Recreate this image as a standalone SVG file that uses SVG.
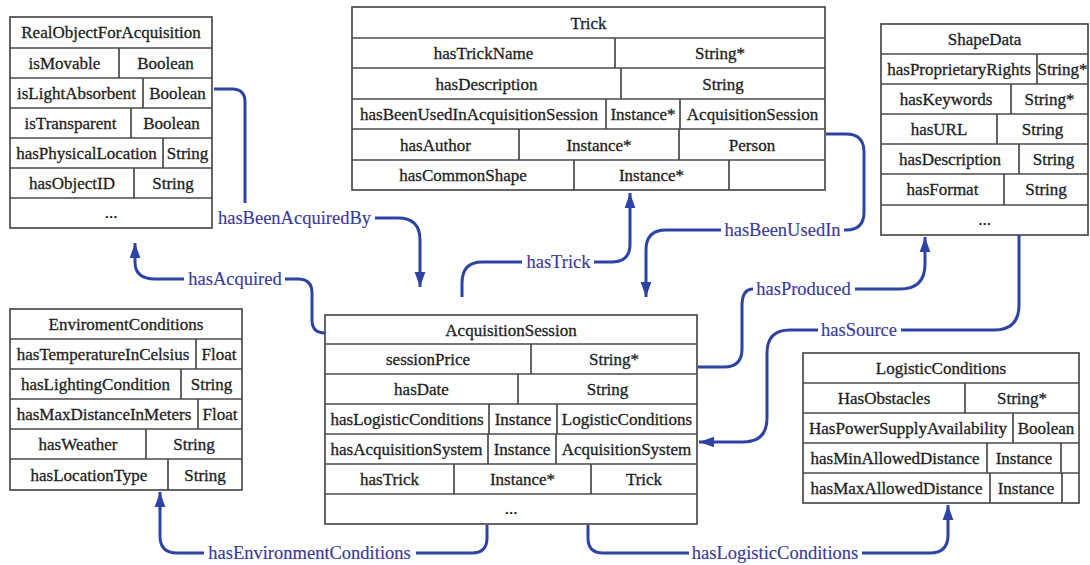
<svg xmlns="http://www.w3.org/2000/svg" width="1090" height="565" viewBox="0 0 1090 565">
<style>
.box{fill:#fff;stroke:#4a4a4a;stroke-width:1.7}
.ln{stroke:#4a4a4a;stroke-width:1.7}
.t{font-family:"Liberation Serif","Times New Roman",serif;font-size:17px;fill:#1e1e1e;stroke:#1e1e1e;stroke-width:0.3;text-anchor:middle}
.edge{fill:none;stroke:#2d44a6;stroke-width:3}
.lbl{font-family:"Liberation Serif","Times New Roman",serif;font-size:18.5px;fill:#3a3a9c;stroke:#3a3a9c;stroke-width:0.15;text-anchor:middle}
</style>
<defs>
<marker id="ah" markerUnits="userSpaceOnUse" markerWidth="15" markerHeight="21" refX="21" refY="7.5" orient="auto" viewBox="0 0 21 15">
<path d="M0,0 L21,7.5 L0,15 z" fill="#2d44a6"/>
</marker>
</defs>
<rect width="1090" height="565" fill="#fff"/>

<g id="RealObjectForAcquisition">
<rect class="box" x="10" y="17" width="202" height="211"/>
<path class="ln" d="M10,48H212M10,78H212M10,108H212M10,138H212M10,168H212M10,198H212M119,48V78M143,78V108M131,108V138M163,138V168M134,168V198"/>
<text class="t" x="111" y="38">RealObjectForAcquisition</text>
<text class="t" x="64.5" y="69">isMovable</text><text class="t" x="165.5" y="69">Boolean</text>
<text class="t" x="76.5" y="99">isLightAbsorbent</text><text class="t" x="177.5" y="99">Boolean</text>
<text class="t" x="70.5" y="129">isTransparent</text><text class="t" x="171.5" y="129">Boolean</text>
<text class="t" x="86.5" y="159">hasPhysicalLocation</text><text class="t" x="187.5" y="159">String</text>
<text class="t" x="72" y="189">hasObjectID</text><text class="t" x="173" y="189">String</text>
<text class="t" x="111" y="218">...</text>
</g>

<g id="Trick">
<rect class="box" x="352" y="7" width="473" height="183"/>
<path class="ln" d="M352,38H825M352,68H825M352,99H825M352,129H825M352,160H825M615,38V68M621,68V99M606,99V129M680,99V129M519,129V160M679,129V160M574,160V190M729,160V190"/>
<text class="t" x="588.5" y="29">Trick</text>
<text class="t" x="483.5" y="59">hasTrickName</text><text class="t" x="720" y="59">String*</text>
<text class="t" x="486.5" y="90">hasDescription</text><text class="t" x="723" y="90">String</text>
<text class="t" x="479" y="120">hasBeenUsedInAcquisitionSession</text><text class="t" x="643" y="120">Instance*</text><text class="t" x="752.5" y="120">AcquisitionSession</text>
<text class="t" x="435.5" y="151">hasAuthor</text><text class="t" x="599" y="151">Instance*</text><text class="t" x="752" y="151">Person</text>
<text class="t" x="463" y="181">hasCommonShape</text><text class="t" x="651.5" y="181">Instance*</text>
</g>

<g id="ShapeData">
<rect class="box" x="881" y="24" width="207" height="211"/>
<path class="ln" d="M881,54H1088M881,84H1088M881,114H1088M881,144H1088M881,174H1088M881,205H1088M1037,54V84M1011,84V114M997,114V144M1019,144V174M1004,174V205"/>
<text class="t" x="984.5" y="45">ShapeData</text>
<text class="t" x="959" y="75">hasProprietaryRights</text><text class="t" x="1062.5" y="75">String*</text>
<text class="t" x="946" y="105">hasKeywords</text><text class="t" x="1049.5" y="105">String*</text>
<text class="t" x="939" y="135">hasURL</text><text class="t" x="1042.5" y="135">String</text>
<text class="t" x="950" y="165">hasDescription</text><text class="t" x="1053.5" y="165">String</text>
<text class="t" x="942.5" y="195">hasFormat</text><text class="t" x="1046" y="195">String</text>
<text class="t" x="984.5" y="225">...</text>
</g>

<g id="EnviromentConditions">
<rect class="box" x="10" y="309" width="232" height="181"/>
<path class="ln" d="M10,339H242M10,369H242M10,399H242M10,429H242M10,459H242M196,339V369M181,369V399M198,399V429M146,429V459M168,459V490"/>
<text class="t" x="126" y="330">EnviromentConditions</text>
<text class="t" x="103" y="360">hasTemperatureInCelsius</text><text class="t" x="219" y="360">Float</text>
<text class="t" x="95.5" y="390">hasLightingCondition</text><text class="t" x="211.5" y="390">String</text>
<text class="t" x="104" y="420">hasMaxDistanceInMeters</text><text class="t" x="220" y="420">Float</text>
<text class="t" x="78" y="450">hasWeather</text><text class="t" x="194" y="450">String</text>
<text class="t" x="89" y="481">hasLocationType</text><text class="t" x="205" y="481">String</text>
</g>

<g id="AcquisitionSession">
<rect class="box" x="325" y="315" width="372" height="209"/>
<path class="ln" d="M325,344H697M325,374H697M325,404H697M325,434H697M325,464H697M325,494H697M531,344V374M518,374V404M489,404V434M557,404V434M488,434V464M556,434V464M454,464V494M591,464V494"/>
<text class="t" x="511" y="336">AcquisitionSession</text>
<text class="t" x="428" y="365">sessionPrice</text><text class="t" x="614" y="365">String*</text>
<text class="t" x="421.5" y="395">hasDate</text><text class="t" x="607.5" y="395">String</text>
<text class="t" x="407" y="425">hasLogisticConditions</text><text class="t" x="523" y="425">Instance</text><text class="t" x="627" y="425">LogisticConditions</text>
<text class="t" x="406.5" y="455">hasAcquisitionSystem</text><text class="t" x="522" y="455">Instance</text><text class="t" x="626.5" y="455">AcquisitionSystem</text>
<text class="t" x="389.5" y="485">hasTrick</text><text class="t" x="522.5" y="485">Instance*</text><text class="t" x="644" y="485">Trick</text>
<text class="t" x="511" y="514">...</text>
</g>

<g id="LogisticConditions">
<rect class="box" x="803" y="353" width="276" height="150"/>
<path class="ln" d="M803,383H1079M803,413H1079M803,443H1079M803,473H1079M965,383V413M1013,413V443M987,443V473M1061,443V473M990,473V503M1062,473V503"/>
<text class="t" x="941" y="374">LogisticConditions</text>
<text class="t" x="884" y="404">HasObstacles</text><text class="t" x="1022" y="404">String*</text>
<text class="t" x="908" y="434">HasPowerSupplyAvailability</text><text class="t" x="1046" y="434">Boolean</text>
<text class="t" x="895" y="464">hasMinAllowedDistance</text><text class="t" x="1024" y="464">Instance</text>
<text class="t" x="896.5" y="494">hasMaxAllowedDistance</text><text class="t" x="1026" y="494">Instance</text>
</g>

<g id="connectors">
<path class="edge" d="M214,89H232Q245,89 245,102V203"/>
<path class="edge" d="M375,218H398Q420,218 420,240V287" marker-end="url(#ah)"/>
<text class="lbl" x="294.5" y="224">hasBeenAcquiredBy</text>

<path class="edge" d="M325,333Q312,333 312,320V293Q312,279 298,279H285"/>
<path class="edge" d="M184,279H155Q135,279 135,262V243" marker-end="url(#ah)"/>
<text class="lbl" x="235" y="285">hasAcquired</text>

<path class="edge" d="M462,297V283Q462,262 482,262H522"/>
<path class="edge" d="M594,262H612Q630,262 630,244V193" marker-end="url(#ah)"/>
<text class="lbl" x="558.5" y="268">hasTrick</text>

<path class="edge" d="M826,134H846Q864,134 864,152V212Q864,230 846,230H844"/>
<path class="edge" d="M721,230H666Q646,230 646,250V297" marker-end="url(#ah)"/>
<text class="lbl" x="782.5" y="236">hasBeenUsedIn</text>

<path class="edge" d="M698,367H724Q742,367 742,349V306Q742,289 753,289"/>
<path class="edge" d="M855,289H900Q925,289 925,264V237" marker-end="url(#ah)"/>
<text class="lbl" x="803.5" y="295">hasProduced</text>

<path class="edge" d="M1019,235V305Q1019,330 994,330H901"/>
<path class="edge" d="M818,330H790Q767,330 767,353V418Q767,442 743,442H699" marker-end="url(#ah)"/>
<text class="lbl" x="859" y="336">hasSource</text>

<path class="edge" d="M487,525V538Q487,553 472,553H416"/>
<path class="edge" d="M204,553H177Q160,553 160,536V492" marker-end="url(#ah)"/>
<text class="lbl" x="309.5" y="559">hasEnvironmentConditions</text>

<path class="edge" d="M588,525V538Q588,553 603,553H689"/>
<path class="edge" d="M862,553H930Q948,553 948,535V505" marker-end="url(#ah)"/>
<text class="lbl" x="775" y="559">hasLogisticConditions</text>
</g>
</svg>
